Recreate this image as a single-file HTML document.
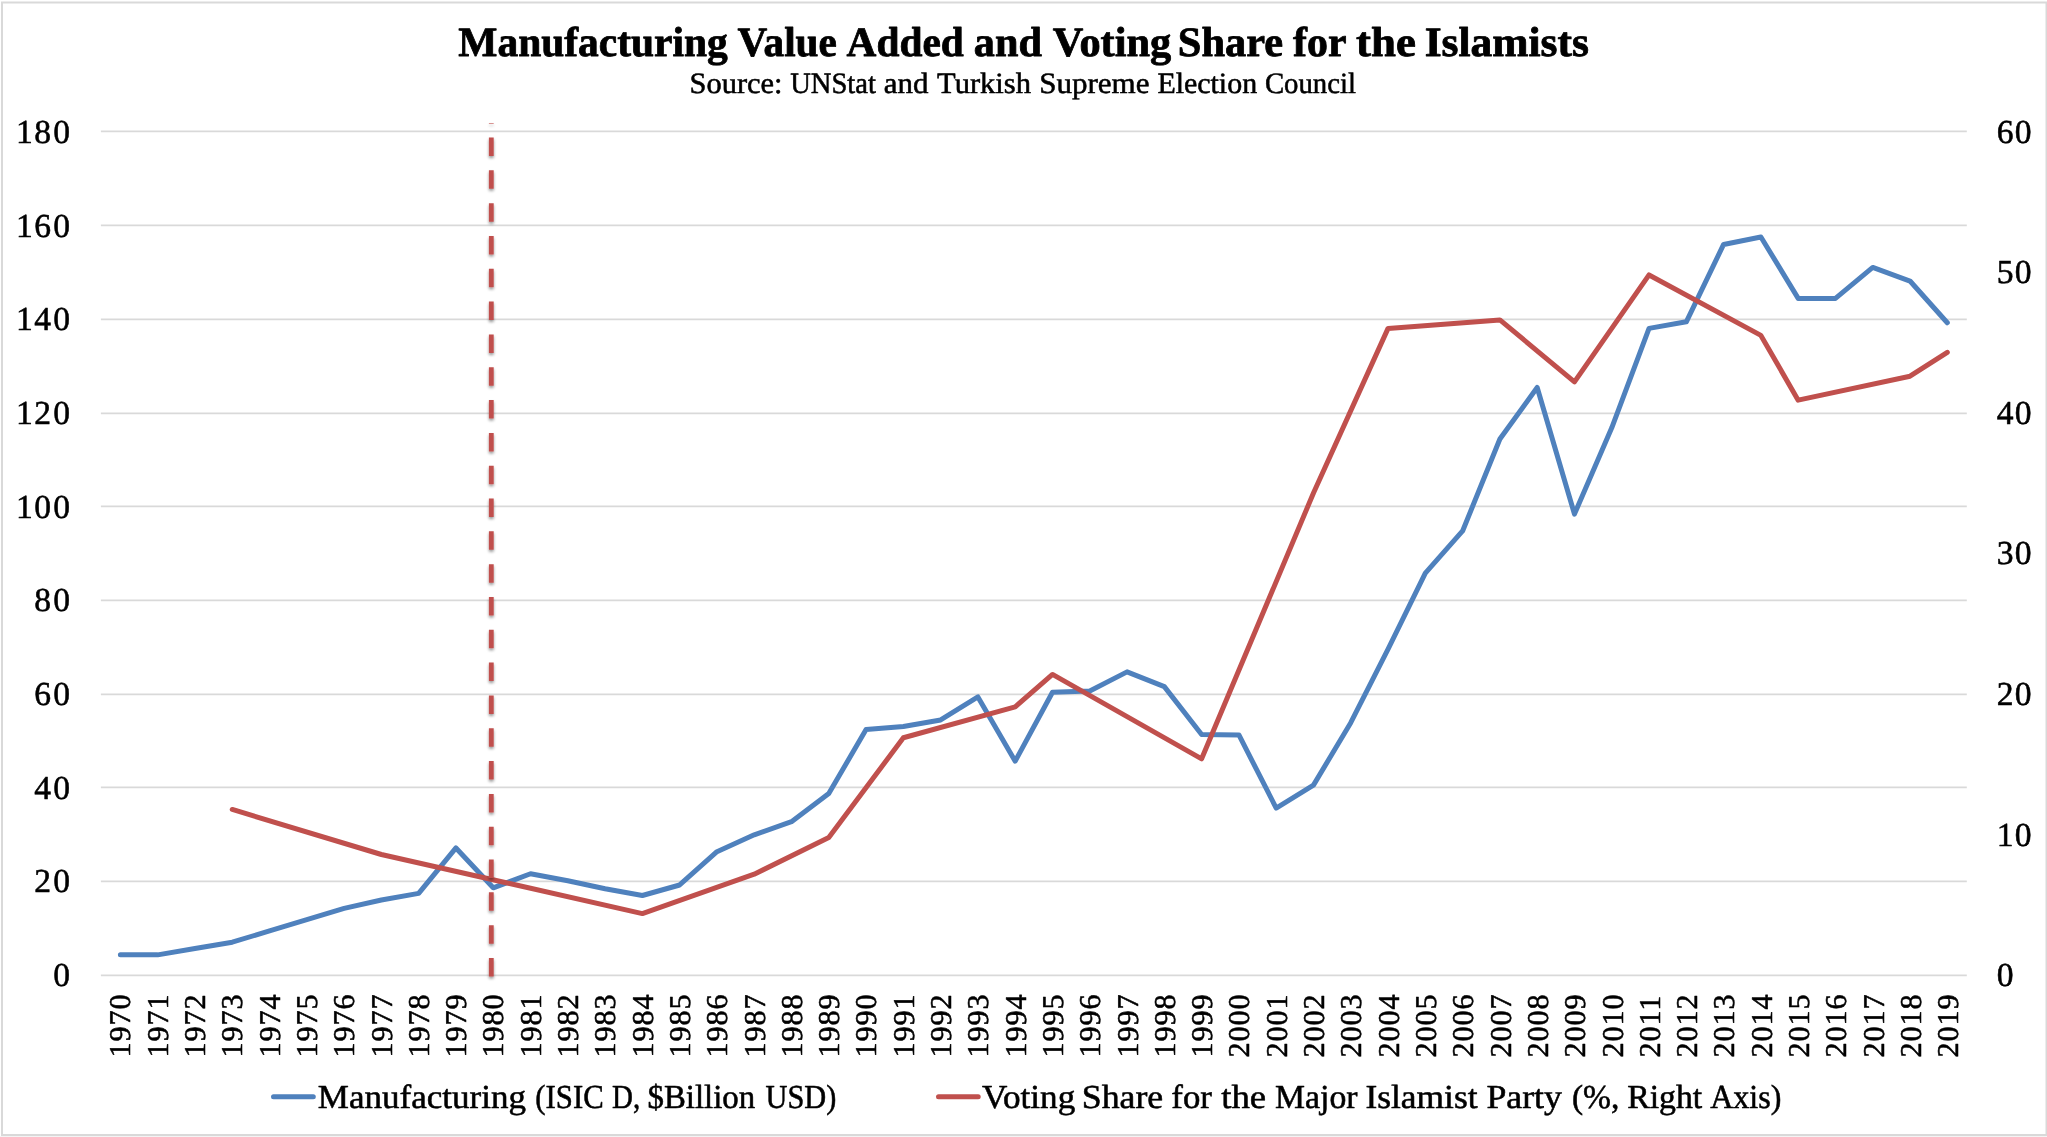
<!DOCTYPE html>
<html lang="en"><head><meta charset="utf-8">
<title>Manufacturing Value Added and Voting Share for the Islamists</title>
<style>
html,body{margin:0;padding:0;background:#fff;}
body{width:2047px;height:1137px;overflow:hidden;}
svg{display:block;}
text{font-family:"Liberation Serif", "DejaVu Serif", serif;fill:#000;white-space:pre;text-rendering:geometricPrecision;stroke:#000;stroke-width:0.55px;stroke-linejoin:round;}
.txt{opacity:0.999;}
.ttl{font-weight:bold;stroke-width:0.8px;}
.ax{font-size:33.60px;}
.xl{font-size:30.20px;letter-spacing:0.90px;}
</style></head><body>
<svg width="2047" height="1137" viewBox="0 0 2047 1137">
<defs><filter id="sh" filterUnits="userSpaceOnUse" x="470" y="100" width="44" height="900"><feGaussianBlur in="SourceAlpha" stdDeviation="1.4" result="b"/><feOffset in="b" dx="0" dy="2" result="o"/><feComponentTransfer in="o" result="s"><feFuncA type="linear" slope="0.42"/></feComponentTransfer><feMerge><feMergeNode in="s"/><feMergeNode in="SourceGraphic"/></feMerge></filter></defs>
<rect x="0" y="0" width="2047" height="1137" fill="#fff"/>
<rect x="2" y="2.5" width="2044.5" height="1132.5" fill="none" stroke="#d9d9d9" stroke-width="2"/>
<rect x="0" y="1136.2" width="2047" height="1" fill="#f2f2f2"/>
<g stroke="#d9d9d9" stroke-width="1.7" fill="none">
<line x1="100.9" y1="131.45" x2="1966.8" y2="131.45"/>
<line x1="100.9" y1="225.45" x2="1966.8" y2="225.45"/>
<line x1="100.9" y1="319.45" x2="1966.8" y2="319.45"/>
<line x1="100.9" y1="413.45" x2="1966.8" y2="413.45"/>
<line x1="100.9" y1="506.45" x2="1966.8" y2="506.45"/>
<line x1="100.9" y1="600.45" x2="1966.8" y2="600.45"/>
<line x1="100.9" y1="694.45" x2="1966.8" y2="694.45"/>
<line x1="100.9" y1="787.45" x2="1966.8" y2="787.45"/>
<line x1="100.9" y1="881.45" x2="1966.8" y2="881.45"/>
<line x1="100.9" y1="975.45" x2="1966.8" y2="975.45"/>
</g>
<g class="txt">
<text y="56.00" font-size="41.80" class="ttl"><tspan x="458.33" textLength="269.51" lengthAdjust="spacingAndGlyphs">Manufacturing</tspan> <tspan x="737.50" textLength="99.39" lengthAdjust="spacingAndGlyphs">Value</tspan> <tspan x="846.58" textLength="117.20" lengthAdjust="spacingAndGlyphs">Added</tspan> <tspan x="973.81" textLength="68.08" lengthAdjust="spacingAndGlyphs">and</tspan> <tspan x="1052.76" textLength="118.40" lengthAdjust="spacingAndGlyphs">Voting</tspan> <tspan x="1177.82" textLength="105.36" lengthAdjust="spacingAndGlyphs">Share</tspan> <tspan x="1293.09" textLength="52.64" lengthAdjust="spacingAndGlyphs">for</tspan> <tspan x="1356.10" textLength="59.80" lengthAdjust="spacingAndGlyphs">the</tspan> <tspan x="1424.70" textLength="164.25" lengthAdjust="spacingAndGlyphs">Islamists</tspan></text>
<text y="93.00" font-size="29.60"><tspan x="689.62" textLength="92.85" lengthAdjust="spacingAndGlyphs">Source:</tspan> <tspan x="790.16" textLength="85.69" lengthAdjust="spacingAndGlyphs">UNStat</tspan> <tspan x="883.89" textLength="44.61" lengthAdjust="spacingAndGlyphs">and</tspan> <tspan x="937.08" textLength="93.81" lengthAdjust="spacingAndGlyphs">Turkish</tspan> <tspan x="1039.23" textLength="110.19" lengthAdjust="spacingAndGlyphs">Supreme</tspan> <tspan x="1157.40" textLength="99.72" lengthAdjust="spacingAndGlyphs">Election</tspan> <tspan x="1264.88" textLength="91.04" lengthAdjust="spacingAndGlyphs">Council</tspan></text>
<g class="ax">
<text x="15.90 34.23 53.18" y="143.00">180</text>
<text x="15.90 34.23 53.18" y="237.00">160</text>
<text x="15.90 34.23 53.18" y="330.00">140</text>
<text x="15.90 34.23 53.18" y="424.00">120</text>
<text x="15.90 34.23 53.18" y="518.00">100</text>
<text x="34.23 53.18" y="611.00">80</text>
<text x="34.23 53.18" y="705.00">60</text>
<text x="34.23 53.18" y="799.00">40</text>
<text x="34.23 53.18" y="892.00">20</text>
<text x="53.18" y="986.00">0</text>
<text x="1996.85 2014.80" y="143.00">60</text>
<text x="1996.85 2014.80" y="283.00">50</text>
<text x="1996.85 2014.80" y="424.00">40</text>
<text x="1996.85 2014.80" y="564.00">30</text>
<text x="1996.85 2014.80" y="705.00">20</text>
<text x="1996.85 2014.80" y="846.00">10</text>
<text x="1996.85" y="986.00">0</text>
</g>
</g>
<polyline points="120.39,954.84 157.68,954.84 194.96,948.51 232.24,942.18 269.53,930.92 306.81,919.67 344.10,908.42 381.38,899.98 418.66,893.41 455.95,847.93 493.23,887.79 530.52,873.72 567.80,880.75 605.08,888.72 642.37,895.52 679.65,884.97 716.94,851.68 754.22,834.80 791.50,821.67 828.79,793.54 866.07,729.53 903.36,726.48 940.64,719.92 977.92,696.94 1015.21,761.18 1052.49,692.25 1089.78,691.08 1127.06,671.86 1164.34,686.63 1201.63,734.46 1238.91,734.92 1276.20,808.07 1313.48,785.10 1350.76,722.73 1388.05,649.12 1425.33,573.15 1462.62,530.95 1499.90,439.05 1537.18,387.47 1574.47,514.07 1611.75,427.79 1649.04,328.39 1686.32,321.82 1723.60,244.45 1760.89,236.95 1798.17,298.38 1835.46,298.38 1872.74,267.43 1910.02,281.03 1947.31,322.76" fill="none" stroke="#4f81bd" stroke-width="5.0" stroke-linejoin="round" stroke-linecap="round"/>
<polyline points="232.24,809.48 381.38,854.49 642.37,913.58 754.22,874.19 828.79,837.61 903.36,737.74 1015.21,706.79 1052.49,674.44 1201.63,758.84 1313.48,492.97 1388.05,328.39 1499.90,319.95 1574.47,381.84 1649.04,274.93 1760.89,335.42 1798.17,400.13 1910.02,376.22 1947.31,352.30" fill="none" stroke="#c0504d" stroke-width="5.0" stroke-linejoin="round" stroke-linecap="round"/>
<g filter="url(#sh)"><line x1="491.3" y1="976.5" x2="491.3" y2="124.5" stroke="#c0504d" stroke-width="4.8" stroke-dasharray="18.5 14.32"/><rect x="488.9" y="123.05" width="4.8" height="0.6" fill="#c0504d"/></g>
<g class="xl txt">
<text transform="translate(130.40 1057.55) rotate(-90)">1970</text>
<text transform="translate(167.70 1057.55) rotate(-90)">1971</text>
<text transform="translate(205.01 1057.55) rotate(-90)">1972</text>
<text transform="translate(242.31 1057.55) rotate(-90)">1973</text>
<text transform="translate(279.61 1057.55) rotate(-90)">1974</text>
<text transform="translate(316.91 1057.55) rotate(-90)">1975</text>
<text transform="translate(354.22 1057.55) rotate(-90)">1976</text>
<text transform="translate(391.52 1057.55) rotate(-90)">1977</text>
<text transform="translate(428.82 1057.55) rotate(-90)">1978</text>
<text transform="translate(466.13 1057.55) rotate(-90)">1979</text>
<text transform="translate(503.43 1057.55) rotate(-90)">1980</text>
<text transform="translate(540.73 1057.55) rotate(-90)">1981</text>
<text transform="translate(578.04 1057.55) rotate(-90)">1982</text>
<text transform="translate(615.34 1057.55) rotate(-90)">1983</text>
<text transform="translate(652.64 1057.55) rotate(-90)">1984</text>
<text transform="translate(689.94 1057.55) rotate(-90)">1985</text>
<text transform="translate(727.25 1057.55) rotate(-90)">1986</text>
<text transform="translate(764.55 1057.55) rotate(-90)">1987</text>
<text transform="translate(801.85 1057.55) rotate(-90)">1988</text>
<text transform="translate(839.16 1057.55) rotate(-90)">1989</text>
<text transform="translate(876.46 1057.55) rotate(-90)">1990</text>
<text transform="translate(913.76 1057.55) rotate(-90)">1991</text>
<text transform="translate(951.07 1057.55) rotate(-90)">1992</text>
<text transform="translate(988.37 1057.55) rotate(-90)">1993</text>
<text transform="translate(1025.67 1057.55) rotate(-90)">1994</text>
<text transform="translate(1062.97 1057.55) rotate(-90)">1995</text>
<text transform="translate(1100.28 1057.55) rotate(-90)">1996</text>
<text transform="translate(1137.58 1057.55) rotate(-90)">1997</text>
<text transform="translate(1174.88 1057.55) rotate(-90)">1998</text>
<text transform="translate(1212.19 1057.55) rotate(-90)">1999</text>
<text transform="translate(1249.49 1057.55) rotate(-90)">2000</text>
<text transform="translate(1286.79 1057.55) rotate(-90)">2001</text>
<text transform="translate(1324.10 1057.55) rotate(-90)">2002</text>
<text transform="translate(1361.40 1057.55) rotate(-90)">2003</text>
<text transform="translate(1398.70 1057.55) rotate(-90)">2004</text>
<text transform="translate(1436.01 1057.55) rotate(-90)">2005</text>
<text transform="translate(1473.31 1057.55) rotate(-90)">2006</text>
<text transform="translate(1510.61 1057.55) rotate(-90)">2007</text>
<text transform="translate(1547.91 1057.55) rotate(-90)">2008</text>
<text transform="translate(1585.22 1057.55) rotate(-90)">2009</text>
<text transform="translate(1622.52 1057.55) rotate(-90)">2010</text>
<text transform="translate(1659.82 1057.55) rotate(-90)">2011</text>
<text transform="translate(1697.13 1057.55) rotate(-90)">2012</text>
<text transform="translate(1734.43 1057.55) rotate(-90)">2013</text>
<text transform="translate(1771.73 1057.55) rotate(-90)">2014</text>
<text transform="translate(1809.03 1057.55) rotate(-90)">2015</text>
<text transform="translate(1846.34 1057.55) rotate(-90)">2016</text>
<text transform="translate(1883.64 1057.55) rotate(-90)">2017</text>
<text transform="translate(1920.94 1057.55) rotate(-90)">2018</text>
<text transform="translate(1958.25 1057.55) rotate(-90)">2019</text>
</g>
<line x1="273.5" y1="1096.8" x2="313.3" y2="1096.8" stroke="#4f81bd" stroke-width="5" stroke-linecap="round"/>
<line x1="938.5" y1="1096.8" x2="978.2" y2="1096.8" stroke="#c0504d" stroke-width="5" stroke-linecap="round"/>
<g class="txt">
<text y="1108.00" font-size="33.60"><tspan x="317.88" textLength="208.07" lengthAdjust="spacingAndGlyphs">Manufacturing</tspan> <tspan x="535.32" textLength="68.33" lengthAdjust="spacingAndGlyphs">(ISIC</tspan> <tspan x="612.04" textLength="28.14" lengthAdjust="spacingAndGlyphs">D,</tspan> <tspan x="647.49" textLength="107.73" lengthAdjust="spacingAndGlyphs">$Billion</tspan> <tspan x="765.55" textLength="70.80" lengthAdjust="spacingAndGlyphs">USD)</tspan></text>
<text y="1108.00" font-size="33.60"><tspan x="982.11" textLength="93.16" lengthAdjust="spacingAndGlyphs">Voting</tspan> <tspan x="1081.76" textLength="81.43" lengthAdjust="spacingAndGlyphs">Share</tspan> <tspan x="1171.36" textLength="40.57" lengthAdjust="spacingAndGlyphs">for</tspan> <tspan x="1221.26" textLength="44.88" lengthAdjust="spacingAndGlyphs">the</tspan> <tspan x="1275.05" textLength="82.50" lengthAdjust="spacingAndGlyphs">Major</tspan> <tspan x="1365.47" textLength="112.01" lengthAdjust="spacingAndGlyphs">Islamist</tspan> <tspan x="1486.42" textLength="75.45" lengthAdjust="spacingAndGlyphs">Party</tspan> <tspan x="1571.90" textLength="47.41" lengthAdjust="spacingAndGlyphs">(%,</tspan> <tspan x="1627.17" textLength="75.07" lengthAdjust="spacingAndGlyphs">Right</tspan> <tspan x="1710.13" textLength="71.24" lengthAdjust="spacingAndGlyphs">Axis)</tspan></text>
</g>
</svg>
</body></html>
